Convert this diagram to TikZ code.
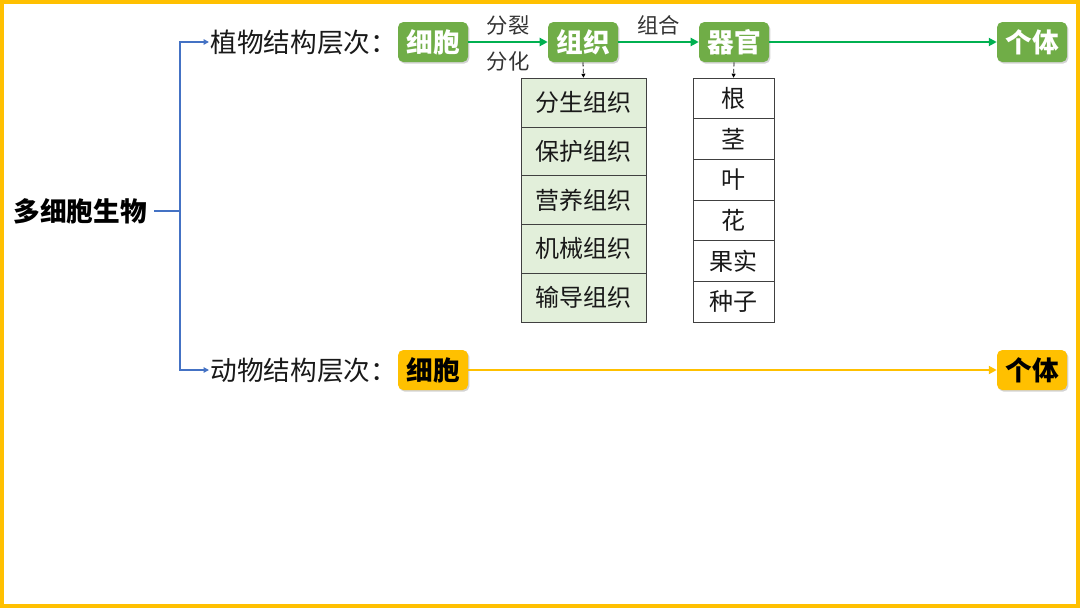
\documentclass[tikz,border=0pt]{standalone}
\usepackage{fontspec}
\setmainfont{Noto Sans CJK SC}
\usetikzlibrary{arrows.meta,shadows}
\definecolor{frameyellow}{RGB}{255,192,0}
\definecolor{bracketblue}{RGB}{68,114,196}
\definecolor{boxgreen}{RGB}{112,173,71}
\definecolor{arrowgreen}{RGB}{0,176,80}
\definecolor{tissuefill}{RGB}{226,239,218}
\definecolor{animalyellow}{RGB}{255,192,0}
\tikzset{
  levelbox/.style={fill=boxgreen, text=white, rounded corners=4pt, inner sep=0pt,
    minimum width=52.5pt, minimum height=30pt, font=\fontsize{20}{24}\selectfont\bfseries,
    drop shadow={opacity=0.35, shadow xshift=1pt, shadow yshift=-1.2pt}},
  animalbox/.style={levelbox, fill=animalyellow, text=black},
  tissuecell/.style={draw=black!75, fill=tissuefill, inner sep=0pt, minimum width=94pt,
    minimum height=36.6pt, text=black!90, font=\fontsize{18}{20}\selectfont},
  organcell/.style={draw=black!75, fill=white, inner sep=0pt, minimum width=61pt,
    minimum height=30.5pt, text=black!90, font=\fontsize{18}{20}\selectfont},
  textlabel/.style={inner sep=1pt, text=black!90, font=\fontsize{20}{24}\selectfont},
  steplabel/.style={inner sep=1pt, text=black!80, font=\fontsize{16}{18}\selectfont},
  greenarrow/.style={arrowgreen, line width=2pt, -{Triangle[length=6pt,width=6pt]}},
  yellowarrow/.style={animalyellow, line width=2pt, -{Triangle[length=6pt,width=6pt]}},
  bracketline/.style={bracketblue, line width=1.3pt},
  dasharrow/.style={black, densely dashed, line width=0.6pt, -{Triangle[length=3pt,width=3pt]}}
}
\begin{document}
\begin{tikzpicture}[x=0.75pt,y=0.75pt,yscale=-1,xscale=1]
  \useasboundingbox (0,0) rectangle (1080,608);
  % frame
  \draw [frameyellow, line width=3pt] (2,2) rectangle (1078,606);

  % Text Node
  \node (root) [textlabel, text=black, font=\fontsize{20}{24}\selectfont\bfseries] at (80,211) {多细胞生物};
  \node (plant) [textlabel, anchor=west] at (209,42) {植物结构层次：};
  \node (animal) [textlabel, anchor=west] at (209,370) {动物结构层次：};

  % bracket
  \coordinate (fork) at (180,211);
  \draw [bracketline] (root.east) ++(6,0) -- (fork);
  \draw [bracketline, -{Triangle[length=4pt,width=4pt]}] (fork) |- (plant.west);
  \draw [bracketline, -{Triangle[length=4pt,width=4pt]}] (fork) |- (animal.west);

  % plant levels
  \node (pcell) [levelbox] at (433,42) {细胞};
  \node (ptissue) [levelbox] at (583,42) {组织};
  \node (porgan) [levelbox] at (734,42) {器官};
  \node (pbody) [levelbox] at (1032,42) {个体};
  \draw [greenarrow] (pcell) -- (ptissue)
    node [steplabel, midway, above=3pt] {分裂}
    node [steplabel, midway, below=5pt] {分化};
  \draw [greenarrow] (ptissue) -- (porgan) node [steplabel, midway, above=3pt] {组合};
  \draw [greenarrow] (porgan) -- (pbody);

  % tissues
  \node (t1) [tissuecell] at (583.5,102.4) {分生组织};
  \node (t2) [tissuecell] at (583.5,151.2) {保护组织};
  \node (t3) [tissuecell] at (583.5,200.0) {营养组织};
  \node (t4) [tissuecell] at (583.5,248.8) {机械组织};
  \node (t5) [tissuecell] at (583.5,297.6) {输导组织};
  \draw [dasharrow] (ptissue.south) -- (t1.north);

  % organs
  \node (o1) [organcell] at (733.5,98.3) {根};
  \node (o2) [organcell] at (733.5,139.0) {茎};
  \node (o3) [organcell] at (733.5,179.7) {叶};
  \node (o4) [organcell] at (733.5,220.3) {花};
  \node (o5) [organcell] at (733.5,261.0) {果实};
  \node (o6) [organcell] at (733.5,301.7) {种子};
  \draw [dasharrow] (porgan.south) -- (o1.north);

  % animal levels
  \node (acell) [animalbox] at (433,370) {细胞};
  \node (abody) [animalbox] at (1032,370) {个体};
  \draw [yellowarrow] (acell) -- (abody);
\end{tikzpicture}
\end{document}
